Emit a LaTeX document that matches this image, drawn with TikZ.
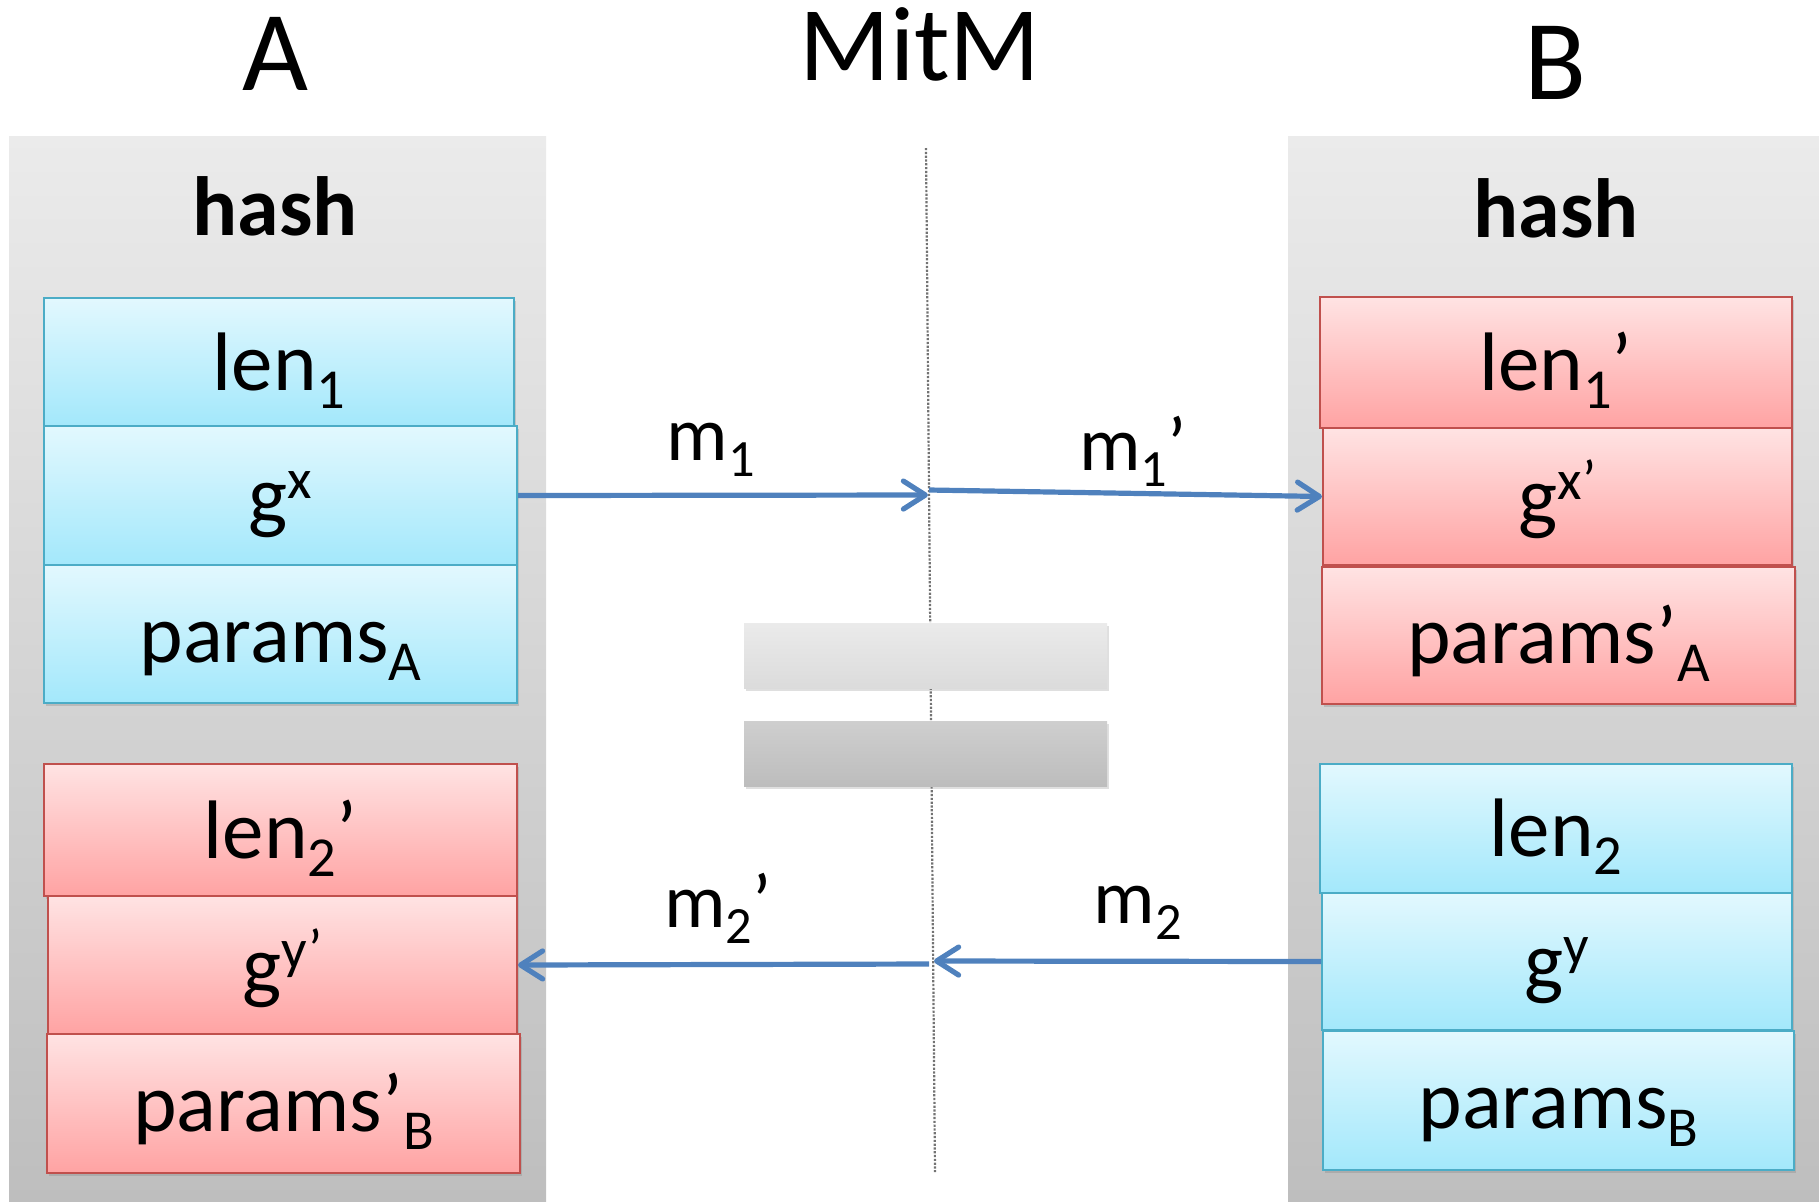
\documentclass[tikz,border=0pt]{standalone}
\usepackage{fontspec}
\setmainfont{Carlito}
\usetikzlibrary{arrows.meta,shadows}
\definecolor{panelTop}{HTML}{EBEBEB}
\definecolor{panelBot}{HTML}{BEBEBE}
\definecolor{blueTop}{HTML}{E2F8FE}
\definecolor{blueBot}{HTML}{A3E8FB}
\definecolor{blueLine}{HTML}{4BACC6}
\definecolor{redTop}{HTML}{FFE3E3}
\definecolor{redBot}{HTML}{FFA3A3}
\definecolor{redLine}{HTML}{C0504D}
\definecolor{msgBlue}{HTML}{4F81BD}
\newcommand\lo[1]{\raisebox{-.22em}{\scalebox{.68}{#1}}}
\newcommand\hi[1]{\raisebox{.3em}{\scalebox{.68}{#1}}}
\begin{document}
\begin{tikzpicture}[x=.5pt,y=-.5pt,>={Straight Barb[length=11pt,width=14pt,round]},
    field/.style={line width=1pt,inner sep=0pt,text height=28pt,text depth=0pt,
        font=\fontsize{41.5}{50}\selectfont,
        drop shadow={opacity=.3,shadow xshift=1pt,shadow yshift=-1.5pt}},
    bfield/.style={field,draw=blueLine,top color=blueTop,bottom color=blueBot},
    rfield/.style={field,draw=redLine,top color=redTop,bottom color=redBot},
    msg/.style={->,draw=msgBlue,line width=2.6pt},
    lbl/.style={anchor=base,font=\fontsize{38.5}{46}\selectfont},
    title/.style={anchor=base,font=\fontsize{#1}{60}\selectfont},
    head/.style={anchor=base,font=\fontsize{42}{50}\selectfont\bfseries}]
    \useasboundingbox (0,0) rectangle (1819,1201);
    \shade[top color=panelTop,bottom color=panelBot] (9,136) rectangle (546,1201);
    \shade[top color=panelTop,bottom color=panelBot] (1288,136) rectangle (1819,1201);
    \node[title=57] (tA) at (275,90) {A};
    \node[title=53] (tM) at (920,80) {MitM};
    \node[title=57] (tB) at (1555,99) {B};
    \node[head] (hA) at (275,235) {hash};
    \node[head] (hB) at (1556,237) {hash};
    \coordinate (top) at (926,148);
    \coordinate (bot) at (935,1172);
    \draw[black!55,line width=1.1pt,dash pattern=on 1.1pt off .8pt] (top) -- (bot);
    \shade[top color=black!8,bottom color=black!14,drop shadow={opacity=.25,shadow xshift=1pt,shadow yshift=-1.5pt}]
        (744,623) rectangle (1107,688);
    \shade[top color=black!19,bottom color=black!26,drop shadow={opacity=.25,shadow xshift=1pt,shadow yshift=-1.5pt}]
        (744,721) rectangle (1107,786);
    \foreach \nm/\xa/\ya/\xb/\yb/\st/\tx in {
        lenA/44/298/514/426/bfield/{len\lo{1}},
        gxA/44/426/517/565/bfield/{g\hi{x}},
        parA/44/565/517/703/bfield/{params\lo{A}},
        lenAp/44/764/517/896/rfield/{len\lo{2}’},
        gyAp/48/896/517/1034/rfield/{g\hi{y’}},
        parAp/47/1034/520/1173/rfield/{params’\lo{B}},
        lenBp/1320/297/1792/428/rfield/{len\lo{1}’},
        gxBp/1323/428/1792/565/rfield/{g\hi{x’}},
        parBp/1322/567/1795/704/rfield/{params’\lo{A}},
        lenB/1320/764/1792/893/bfield/{len\lo{2}},
        gyB/1322/893/1792/1030/bfield/{g\hi{y}},
        parB/1323/1031/1794/1170/bfield/{params\lo{B}}}
    {
        \node[\st,minimum width=(\xb-\xa)*.5pt,minimum height=(\yb-\ya)*.5pt]
            (\nm) at ({(\xa+\xb)/2},{(\ya+\yb)/2}) {\tx};
    }
    \coordinate (c1) at (928,495);
    \coordinate (c1b) at (929,490);
    \coordinate (c2) at (934,961);
    \coordinate (c2b) at (929,964);
    \draw[msg] (gxA.east) -- (c1);
    \draw[msg] (c1b) -- (gxBp.west);
    \draw[msg] (gyB.west) -- (c2);
    \draw[msg] (c2b) -- (gyAp.east);
    \node[lbl] (m1) at (711,460) {m\lo{1}};
    \node[lbl] (m1p) at (1133,470) {m\lo{1}’};
    \node[lbl] (m2) at (1138,923) {m\lo{2}};
    \node[lbl] (m2p) at (718,927) {m\lo{2}’};
\end{tikzpicture}
\end{document}
